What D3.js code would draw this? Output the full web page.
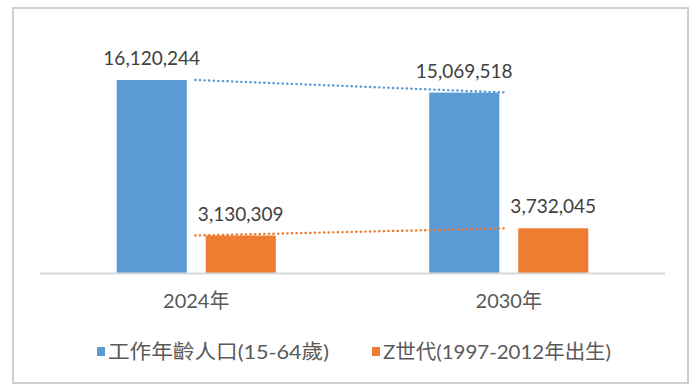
<!DOCTYPE html>
<html>
<head>
<meta charset="utf-8">
<script src="https://cdn.jsdelivr.net/npm/d3@7/dist/d3.min.js"></script>
<style>
  html, body { margin: 0; padding: 0; background: #fff; }
  svg { display: block; }
  text { font-family: "Lato", "Noto Sans CJK TC", sans-serif; fill: #595959; }
</style>
</head>
<body>
<svg id="chart" width="700" height="392"></svg>
<script>
const categories = ["2024年", "2030年"];
const seriesNames = ["工作年齡人口(15-64歲)", "Z世代(1997-2012年出生)"];
const seriesColors = ["#5b9bd5", "#ed7d31"];
const workingAge = [16120244, 15069518];
const genZ = [3130309, 3732045];
const seriesValues = [workingAge, genZ];

const svg = d3.select("#chart");

// frame
svg.append("rect").attr("x", 13).attr("y", 8).attr("width", 675).attr("height", 375)
  .attr("fill", "#fff").attr("stroke", "#d0d0d0").attr("stroke-width", 2);

const plot = { left: 40, right: 665, top: 57.5, bottom: 273 };

const x0 = d3.scaleBand().domain(categories).range([plot.left, plot.right]).padding(0);
const x1 = d3.scaleBand().domain(d3.range(seriesNames.length)).range([0, x0.bandwidth()])
  .paddingInner(0.213).paddingOuter(0.862);
const y = d3.scaleLinear().domain([0, 18000000]).range([plot.bottom, plot.top]);

const fmt = d3.format(",");

// bars
seriesValues.forEach((vals, s) => {
  svg.append("g").selectAll("rect").data(vals).join("rect")
    .attr("x", (d, i) => x0(categories[i]) + x1(s))
    .attr("y", d => y(d))
    .attr("width", x1.bandwidth())
    .attr("height", d => y(0) - y(d))
    .attr("fill", seriesColors[s]);
});

// baseline
svg.append("line").attr("x1", plot.left).attr("x2", plot.right)
  .attr("y1", y(0) + 0.5).attr("y2", y(0) + 0.5)
  .attr("stroke", "#d9d9d9").attr("stroke-width", 2);

// dotted series lines between group centers
seriesValues.forEach((vals, s) => {
  const line = d3.line()
    .x((d, i) => x0(categories[i]) + x0.bandwidth() / 2 - 1)
    .y(d => y(d));
  svg.append("path").datum(vals).attr("d", line)
    .attr("fill", "none").attr("stroke", seriesColors[s])
    .attr("stroke-width", 2.4).attr("stroke-linecap", "round")
    .attr("stroke-dasharray", "0.3 4.3");
});

// data labels
seriesValues.forEach((vals, s) => {
  svg.append("g").selectAll("text").data(vals).join("text")
    .attr("x", (d, i) => x0(categories[i]) + x1(s) + x1.bandwidth() / 2)
    .attr("y", d => y(d) - 15)
    .attr("text-anchor", "middle")
    .attr("font-size", 19)
    .style("fill", "#404040")
    .text(d => fmt(d));
});

// category axis
const xAxis = d3.axisBottom(x0).tickSize(0).tickPadding(0);
const ax = svg.append("g").attr("transform", `translate(0,${y(0)})`).call(xAxis);
ax.select(".domain").remove();
ax.selectAll("text").attr("dy", null).attr("y", 35)
  .attr("font-size", 20).style("fill", "#595959")
  .style("font-family", "Lato, 'Noto Sans CJK TC', sans-serif");

// legend
const legendX = [97, 372];
const legendLen = [221, 228];
const lg = svg.append("g");
seriesNames.forEach((name, s) => {
  lg.append("rect").attr("x", legendX[s]).attr("y", 347).attr("width", 8).attr("height", 9)
    .attr("fill", seriesColors[s]);
  lg.append("text").attr("x", legendX[s] + 11).attr("y", 359)
    .attr("font-size", 20)
    .attr("textLength", legendLen[s]).attr("lengthAdjust", "spacingAndGlyphs")
    .text(name);
});
</script>
</body>
</html>
